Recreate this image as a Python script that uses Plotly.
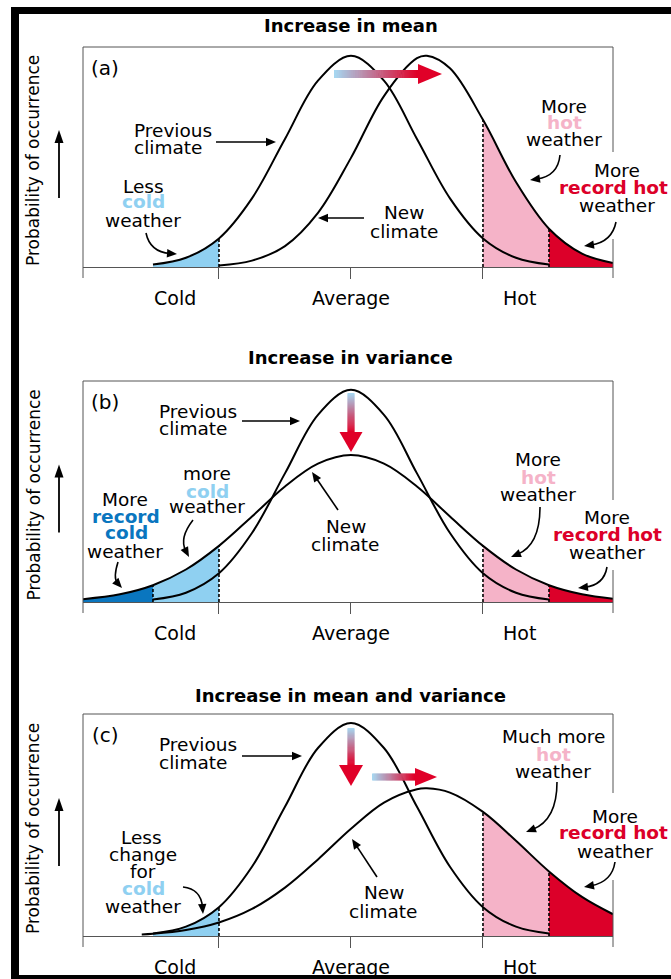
import math
import plotly.graph_objects as go

W, H = 671, 979

# ---------------- data ----------------
# x: temperature in standard deviations of the previous climate (0 = average)
# y: probability of occurrence as a fraction of the panel height
PREV_X = [-3, -2.5, -2, -1.5, -1, -0.5, 0, 0.5, 1, 1.5, 2, 2.5, 3]
PREV_Y = [0.011, 0.042, 0.130, 0.312, 0.582, 0.847, 0.960, 0.847, 0.582, 0.312, 0.130, 0.042, 0.011]

A_NEW_X = [-2, -1.5, -1, -0.5, 0, 0.5, 1, 1.15, 1.5, 2, 2.5, 3, 3.5, 3.97]
A_NEW_Y = [0.007, 0.029, 0.095, 0.246, 0.496, 0.777, 0.949, 0.960, 0.903, 0.669, 0.386, 0.174, 0.061, 0.018]

B_NEW_X = [-4.06, -3.5, -3, -2.5, -2, -1.5, -1, -0.5, 0, 0.5, 1, 1.5, 2, 2.5, 3, 3.5, 3.97]
B_NEW_Y = [0.013, 0.035, 0.076, 0.147, 0.254, 0.387, 0.523, 0.626, 0.665, 0.626, 0.523, 0.387, 0.254, 0.147, 0.076, 0.035, 0.015]

C_NEW_X = [-3.17, -3, -2.5, -2, -1.5, -1, -0.5, 0, 0.5, 1, 1.15, 1.5, 2, 2.5, 3, 3.5, 3.97]
C_NEW_Y = [0.007, 0.010, 0.027, 0.061, 0.122, 0.218, 0.345, 0.483, 0.601, 0.661, 0.665, 0.646, 0.559, 0.429, 0.291, 0.176, 0.098]

RECORD_COLD, COLD, AVERAGE, HOT, RECORD_HOT = -3, -2, 0, 2, 3
X_MIN, X_MAX = -4.06, 3.97
CATEGORY_LABELS = ["Cold", "Average", "Hot"]
CATEGORY_LABEL_X = [-2.67, 0, 2.55]
PANEL_TITLES = ["Increase in mean", "Increase in variance", "Increase in mean and variance"]
PANEL_TAGS = ["(a)", "(b)", "(c)"]
Y_LABEL = "Probability of occurrence"

# ---------------- styling ----------------
LIGHT_BLUE = "#8fd0f1"
DARK_BLUE = "#0a76bf"
PINK = "#f5b3c8"
RED = "#dc0029"
FONT = "DejaVu Sans"
BOX_COLOR = "#555555"
TXT = 18.5

# panel boxes in pixels (top, bottom)
PANEL_BOX = [(47, 267), (381, 602), (714, 936)]
BOX_L, BOX_R = 83, 613
TITLE_Y = [25, 358, 695]
TICKLABEL_Y = [298, 633, 967]
RIGHT_GAP = [(152, 239), (500, 570), (793, 880)]


def px(x):
    return x / W


def py(y):
    return 1 - y / H


fig = go.Figure()
shapes = []
annotations = []


def sub(xs, ys, a, b):
    pts = [(x, y) for x, y in zip(xs, ys) if a - 1e-9 <= x <= b + 1e-9]
    return [p[0] for p in pts], [p[1] for p in pts]


def val(xs, ys, x):
    return ys[xs.index(x)]


def fill(i, xs, ys, a, b, color):
    fx, fy = sub(xs, ys, a, b)
    fig.add_trace(go.Scatter(x=fx, y=fy, mode="lines", fill="tozeroy", fillcolor=color,
                             line=dict(width=0, shape="spline", color=color),
                             xaxis=f"x{i}", yaxis=f"y{i}", hoverinfo="skip", showlegend=False))


def curve(i, xs, ys):
    fig.add_trace(go.Scatter(x=xs, y=ys, mode="lines",
                             line=dict(width=2, shape="spline", color="black"),
                             xaxis=f"x{i}", yaxis=f"y{i}", hoverinfo="skip", showlegend=False))


def dashed(i, x, y):
    shapes.append(dict(type="line", xref=f"x{i}", yref=f"y{i}", x0=x, x1=x, y0=0, y1=y,
                       line=dict(color="black", width=1.6, dash="3px,2px"), layer="above"))


def text(x, y, s, size=TXT, color="black", bold=False, anchor="center", angle=0):
    if bold:
        s = f"<b>{s}</b>"
    annotations.append(dict(x=px(x), y=py(y), xref="paper", yref="paper", text=s,
                            showarrow=False, xanchor=anchor, yanchor="middle",
                            textangle=angle, font=dict(family=FONT, size=size, color=color)))


def lerp(c0, c1, t):
    return "rgb(%d,%d,%d)" % tuple(round(a + (b - a) * t) for a, b in zip(c0, c1))


GRAD0 = (166, 214, 240)
GRAD1 = (224, 0, 40)


def grad_arrow_h(x0, x1, y, thick, head_len, head_half, n=40):
    xe = x1 - head_len
    for k in range(n):
        xa = x0 + (xe - x0) * k / n
        xb = x0 + (xe - x0) * (k + 1) / n + 0.6
        shapes.append(dict(type="rect", xref="paper", yref="paper", x0=px(xa), x1=px(xb),
                           y0=py(y - thick / 2), y1=py(y + thick / 2),
                           fillcolor=lerp(GRAD0, GRAD1, k / (n - 1)), line=dict(width=0), layer="above"))
    path = f"M{px(x1)},{py(y)} L{px(xe)},{py(y - head_half)} L{px(xe)},{py(y + head_half)} Z"
    shapes.append(dict(type="path", xref="paper", yref="paper", path=path,
                       fillcolor="rgb(224,0,40)", line=dict(width=0), layer="above"))


def grad_arrow_v(x, y0, y1, thick, head_len, head_half, n=40):
    ye = y1 - head_len
    for k in range(n):
        ya = y0 + (ye - y0) * k / n
        yb = y0 + (ye - y0) * (k + 1) / n + 0.6
        shapes.append(dict(type="rect", xref="paper", yref="paper", x0=px(x - thick / 2), x1=px(x + thick / 2),
                           y0=py(ya), y1=py(yb),
                           fillcolor=lerp(GRAD0, GRAD1, k / (n - 1)), line=dict(width=0), layer="above"))
    path = f"M{px(x)},{py(y1)} L{px(x - head_half)},{py(ye)} L{px(x + head_half)},{py(ye)} Z"
    shapes.append(dict(type="path", xref="paper", yref="paper", path=path,
                       fillcolor="rgb(224,0,40)", line=dict(width=0), layer="above"))


def arrow(s, e, c=None, head_len=10, head_half=4.2, width=1.6):
    if c is None:
        c = ((s[0] + e[0]) / 2, (s[1] + e[1]) / 2)
    dx, dy = e[0] - c[0], e[1] - c[1]
    n = math.hypot(dx, dy)
    ux, uy = dx / n, dy / n
    e2 = (e[0] - ux * head_len * 0.7, e[1] - uy * head_len * 0.7)
    path = f"M{px(s[0])},{py(s[1])} Q{px(c[0])},{py(c[1])} {px(e2[0])},{py(e2[1])}"
    shapes.append(dict(type="path", xref="paper", yref="paper", path=path,
                       line=dict(color="black", width=width), layer="above"))
    bx, by = e[0] - ux * head_len, e[1] - uy * head_len
    qx, qy = -uy, ux
    tri = (f"M{px(e[0])},{py(e[1])} L{px(bx + qx * head_half)},{py(by + qy * head_half)} "
           f"L{px(bx - qx * head_half)},{py(by - qy * head_half)} Z")
    shapes.append(dict(type="path", xref="paper", yref="paper", path=tri,
                       fillcolor="black", line=dict(width=0), layer="above"))


# ---------------- panels ----------------
new_curves = [(A_NEW_X, A_NEW_Y), (B_NEW_X, B_NEW_Y), (C_NEW_X, C_NEW_Y)]
layout_axes = {}
for i in (1, 2, 3):
    top, bot = PANEL_BOX[i - 1]
    nx, ny = new_curves[i - 1]
    # fills
    if i == 2:
        fill(i, nx, ny, X_MIN, RECORD_COLD, DARK_BLUE)
        fill(i, nx, ny, RECORD_COLD, COLD, LIGHT_BLUE)
    else:
        fill(i, PREV_X, PREV_Y, RECORD_COLD, COLD, LIGHT_BLUE)
    fill(i, nx, ny, HOT, RECORD_HOT, PINK)
    fill(i, nx, ny, RECORD_HOT, X_MAX, RED)
    # curves
    curve(i, PREV_X, PREV_Y)
    curve(i, nx, ny)
    # dashed thresholds
    if i == 2:
        dashed(i, RECORD_COLD, val(nx, ny, RECORD_COLD))
        dashed(i, COLD, val(nx, ny, COLD))
    else:
        dashed(i, COLD, val(PREV_X, PREV_Y, COLD))
    dashed(i, HOT, val(nx, ny, HOT))
    dashed(i, RECORD_HOT, val(nx, ny, RECORD_HOT))

    layout_axes[f"xaxis{i}"] = dict(domain=[BOX_L / W, BOX_R / W], range=[X_MIN, X_MAX], anchor=f"y{i}",
                                    showline=True, linecolor=BOX_COLOR, linewidth=1, ticks="outside",
                                    ticklen=11, tickwidth=1, tickcolor=BOX_COLOR,
                                    tickvals=[COLD, AVERAGE, HOT], showticklabels=False,
                                    showgrid=False, zeroline=False, fixedrange=True)
    layout_axes[f"yaxis{i}"] = dict(domain=[1 - bot / H, 1 - top / H], range=[0, 1], anchor=f"x{i}",
                                    visible=False, showgrid=False, zeroline=False, fixedrange=True)

    # box: top, left, right (with gap behind labels)
    gap0, gap1 = RIGHT_GAP[i - 1]
    line = dict(color=BOX_COLOR, width=1)
    shapes.append(dict(type="line", xref="paper", yref="paper", x0=px(BOX_L), x1=px(BOX_R),
                       y0=py(top), y1=py(top), line=line))
    shapes.append(dict(type="line", xref="paper", yref="paper", x0=px(BOX_L), x1=px(BOX_L),
                       y0=py(top), y1=py(bot + 11), line=line))
    shapes.append(dict(type="line", xref="paper", yref="paper", x0=px(BOX_R), x1=px(BOX_R),
                       y0=py(top), y1=py(gap0), line=line))
    shapes.append(dict(type="line", xref="paper", yref="paper", x0=px(BOX_R), x1=px(BOX_R),
                       y0=py(gap1), y1=py(bot + 11), line=line))

    # titles, tags, category labels, y label
    text(351, TITLE_Y[i - 1], PANEL_TITLES[i - 1], size=18, bold=True)
    text(105, top + 21, PANEL_TAGS[i - 1], size=20)
    for lab, lx in zip(CATEGORY_LABELS, CATEGORY_LABEL_X):
        annotations.append(dict(x=lx, y=py(TICKLABEL_Y[i - 1]), xref=f"x{i}", yref="paper", text=lab,
                                showarrow=False, xanchor="center", yanchor="middle",
                                font=dict(family=FONT, size=19, color="black")))
    mid = (top + 8 + bot) / 2
    text(33, mid, Y_LABEL, size=17, angle=-90)
    arrow((59, mid + 37), (59, mid - 31), head_len=13, head_half=4.5, width=1.8)

# ---------------- panel (a) annotations ----------------
text(132, 131, "Previous", anchor="left")
text(132, 148, "climate", anchor="left")
arrow((216, 142), (276, 142))
text(143, 186, "Less")
text(143, 202, "cold", color=LIGHT_BLUE, bold=True)
text(143, 220, "weather")
arrow((146, 233), (177, 254), c=(150, 252))
text(404, 212, "New")
text(404, 231, "climate")
arrow((364, 218), (318, 218))
text(564, 106, "More")
text(564, 122, "hot", color=PINK, bold=True)
text(564, 139, "weather")
arrow((560, 155), (530, 180), c=(558, 176))
text(617, 171, "More")
text(613, 187, "record hot", color=RED, bold=True)
text(617, 206, "weather")
arrow((616, 222), (584, 246), c=(612, 242))
grad_arrow_h(334, 442, 74, 8, 24, 10)

# ---------------- panel (b) annotations ----------------
text(157, 411, "Previous", anchor="left")
text(157, 428, "climate", anchor="left")
arrow((242, 421), (300, 421))
text(207, 473, "more")
text(207, 491, "cold", color=LIGHT_BLUE, bold=True)
text(207, 507, "weather")
arrow((193, 520), (189, 557), c=(179, 538))
text(125, 499, "More")
text(126, 516, "record", color=DARK_BLUE, bold=True)
text(126, 532, "cold", color=DARK_BLUE, bold=True)
text(125, 551, "weather")
arrow((118, 562), (122, 588), c=(113, 578))
text(346, 526, "New")
text(345, 544, "climate")
arrow((338, 510), (312, 472))
text(538, 459, "More")
text(538, 477, "hot", color=PINK, bold=True)
text(538, 494, "weather")
arrow((540, 507), (511, 557), c=(540, 545))
text(607, 517, "More")
text(607, 534, "record hot", color=RED, bold=True)
text(607, 552, "weather")
arrow((607, 567), (578, 588), c=(604, 585))
grad_arrow_v(351, 393, 452, 7, 20, 11.5)

# ---------------- panel (c) annotations ----------------
text(157, 744, "Previous", anchor="left")
text(157, 762, "climate", anchor="left")
arrow((242, 756), (302, 756))
text(141, 837, "Less")
text(143, 854, "change")
text(143, 871, "for")
text(143, 888, "cold", color=LIGHT_BLUE, bold=True)
text(143, 906, "weather")
arrow((183, 887), (203, 914), c=(201, 889))
text(384, 892, "New")
text(383, 911, "climate")
arrow((377, 877), (352, 839))
text(553, 736, "Much more")
text(553, 754, "hot", color=PINK, bold=True)
text(553, 771, "weather")
arrow((557, 782), (526, 832), c=(557, 820))
text(615, 816, "More")
text(613, 832, "record hot", color=RED, bold=True)
text(615, 851, "weather")
arrow((615, 862), (584, 887), c=(612, 882))
grad_arrow_v(351, 728, 786, 7, 21, 12)
grad_arrow_h(372, 437, 777, 7, 22, 9)

# ---------------- outer frame ----------------
for (x0, x1, y0, y1) in [(11, 19, 7, 979), (11, 671, 7, 14), (11, 671, 975, 979)]:
    shapes.append(dict(type="rect", xref="paper", yref="paper", x0=px(x0), x1=px(x1),
                       y0=py(y0), y1=py(y1), fillcolor="black", line=dict(width=0), layer="above"))

fig.update_layout(
    width=W, height=H, autosize=False,
    margin=dict(l=0, r=0, t=0, b=0),
    paper_bgcolor="white", plot_bgcolor="rgba(0,0,0,0)",
    showlegend=False, shapes=shapes, annotations=annotations,
    font=dict(family=FONT),
    **layout_axes,
)

fig.write_html("out.html", config={"displayModeBar": False},
               post_script="document.body.style.margin='0';document.body.style.padding='0';"
                           "document.body.style.overflow='hidden';")
